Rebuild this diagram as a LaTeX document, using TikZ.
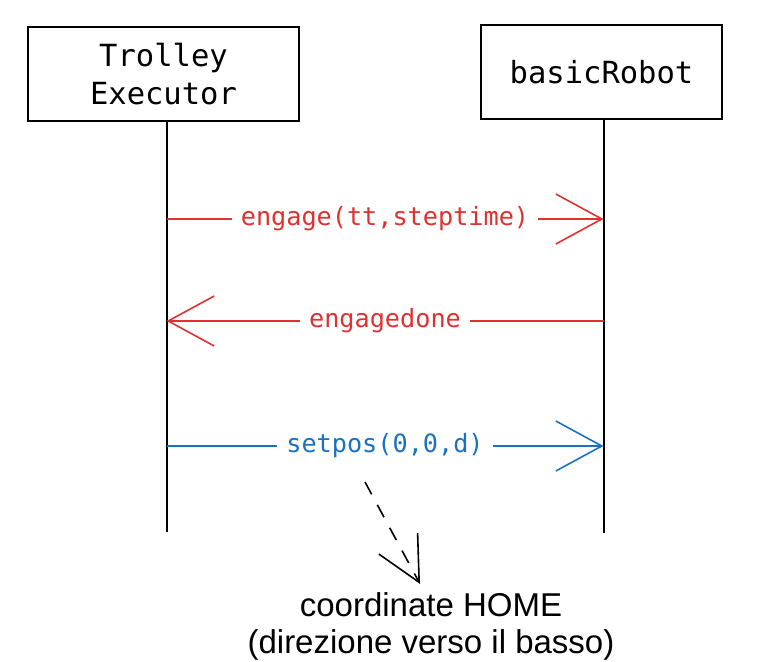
\documentclass[tikz,border=0pt]{standalone}
\usepackage{fontspec}
\setmainfont{Liberation Sans}
\newfontfamily\codefont{DejaVu Sans Mono}
\usetikzlibrary{arrows.meta, positioning}
\definecolor{msgred}{HTML}{E03131}
\definecolor{msgblue}{HTML}{1971C2}
\tikzset{
  actor/.style={draw, line width=2pt, minimum height=94pt, align=center,
    font=\codefont\fontsize{30.5}{38}\selectfont},
  lifeline/.style={line width=2pt},
  msg/.style={line width=1.6pt, -{Straight Barb[length=46pt,width=50pt]}},
  msglabel/.style={fill=white, inner xsep=9pt, font=\codefont\fontsize{25.2}{30}\selectfont}
}
\begin{document}
\begin{tikzpicture}[x=1pt,y=-1pt]
\useasboundingbox (0,0) rectangle (776,661);
% Actors
\node[actor, minimum width=271pt] (te) at (163.5,74) {Trolley\\Executor};
\node[actor, minimum width=241pt] (br) at (601.5,72) {basicRobot};
% Lifelines
\coordinate (te-top) at ([xshift=3pt]te.south);
\coordinate (br-top) at ([xshift=2pt]br.south);
\coordinate (te-end) at (te-top |- 0,532);
\coordinate (br-end) at (br-top |- 0,533);
\draw[lifeline] (te-top) -- (te-end);
\draw[lifeline] (br-top) -- (br-end);
% Points on the lifelines
\coordinate (te-engage) at (te-top |- 0,219);
\coordinate (br-engage) at (br-top |- 0,219);
\coordinate (te-done) at (te-top |- 0,321);
\coordinate (br-done) at (br-top |- 0,321);
\coordinate (te-setpos) at (te-top |- 0,446);
\coordinate (br-setpos) at (br-top |- 0,446);
% Messages
\draw[msg, msgred] (te-engage) -- node[msglabel] {engage(tt,steptime)} (br-engage);
\draw[msg, msgred] (br-done) -- node[msglabel] {engagedone} (te-done);
\draw[msg, msgblue] (te-setpos) -- node[msglabel] {setpos(0,0,d)} (br-setpos);
% Note on HOME
\coordinate (hint) at (365,482);
\node[align=center, inner sep=8pt, font=\fontsize{33}{37}\selectfont] (home) at (431,626)
  {coordinate HOME\\(direzione verso il basso)};
\draw[line width=1.6pt, dash pattern=on 14pt off 12pt,
  -{Straight Barb[length=44pt,width=44pt]}] (hint) -- ([xshift=-11pt]home.north);
\end{tikzpicture}
\end{document}
